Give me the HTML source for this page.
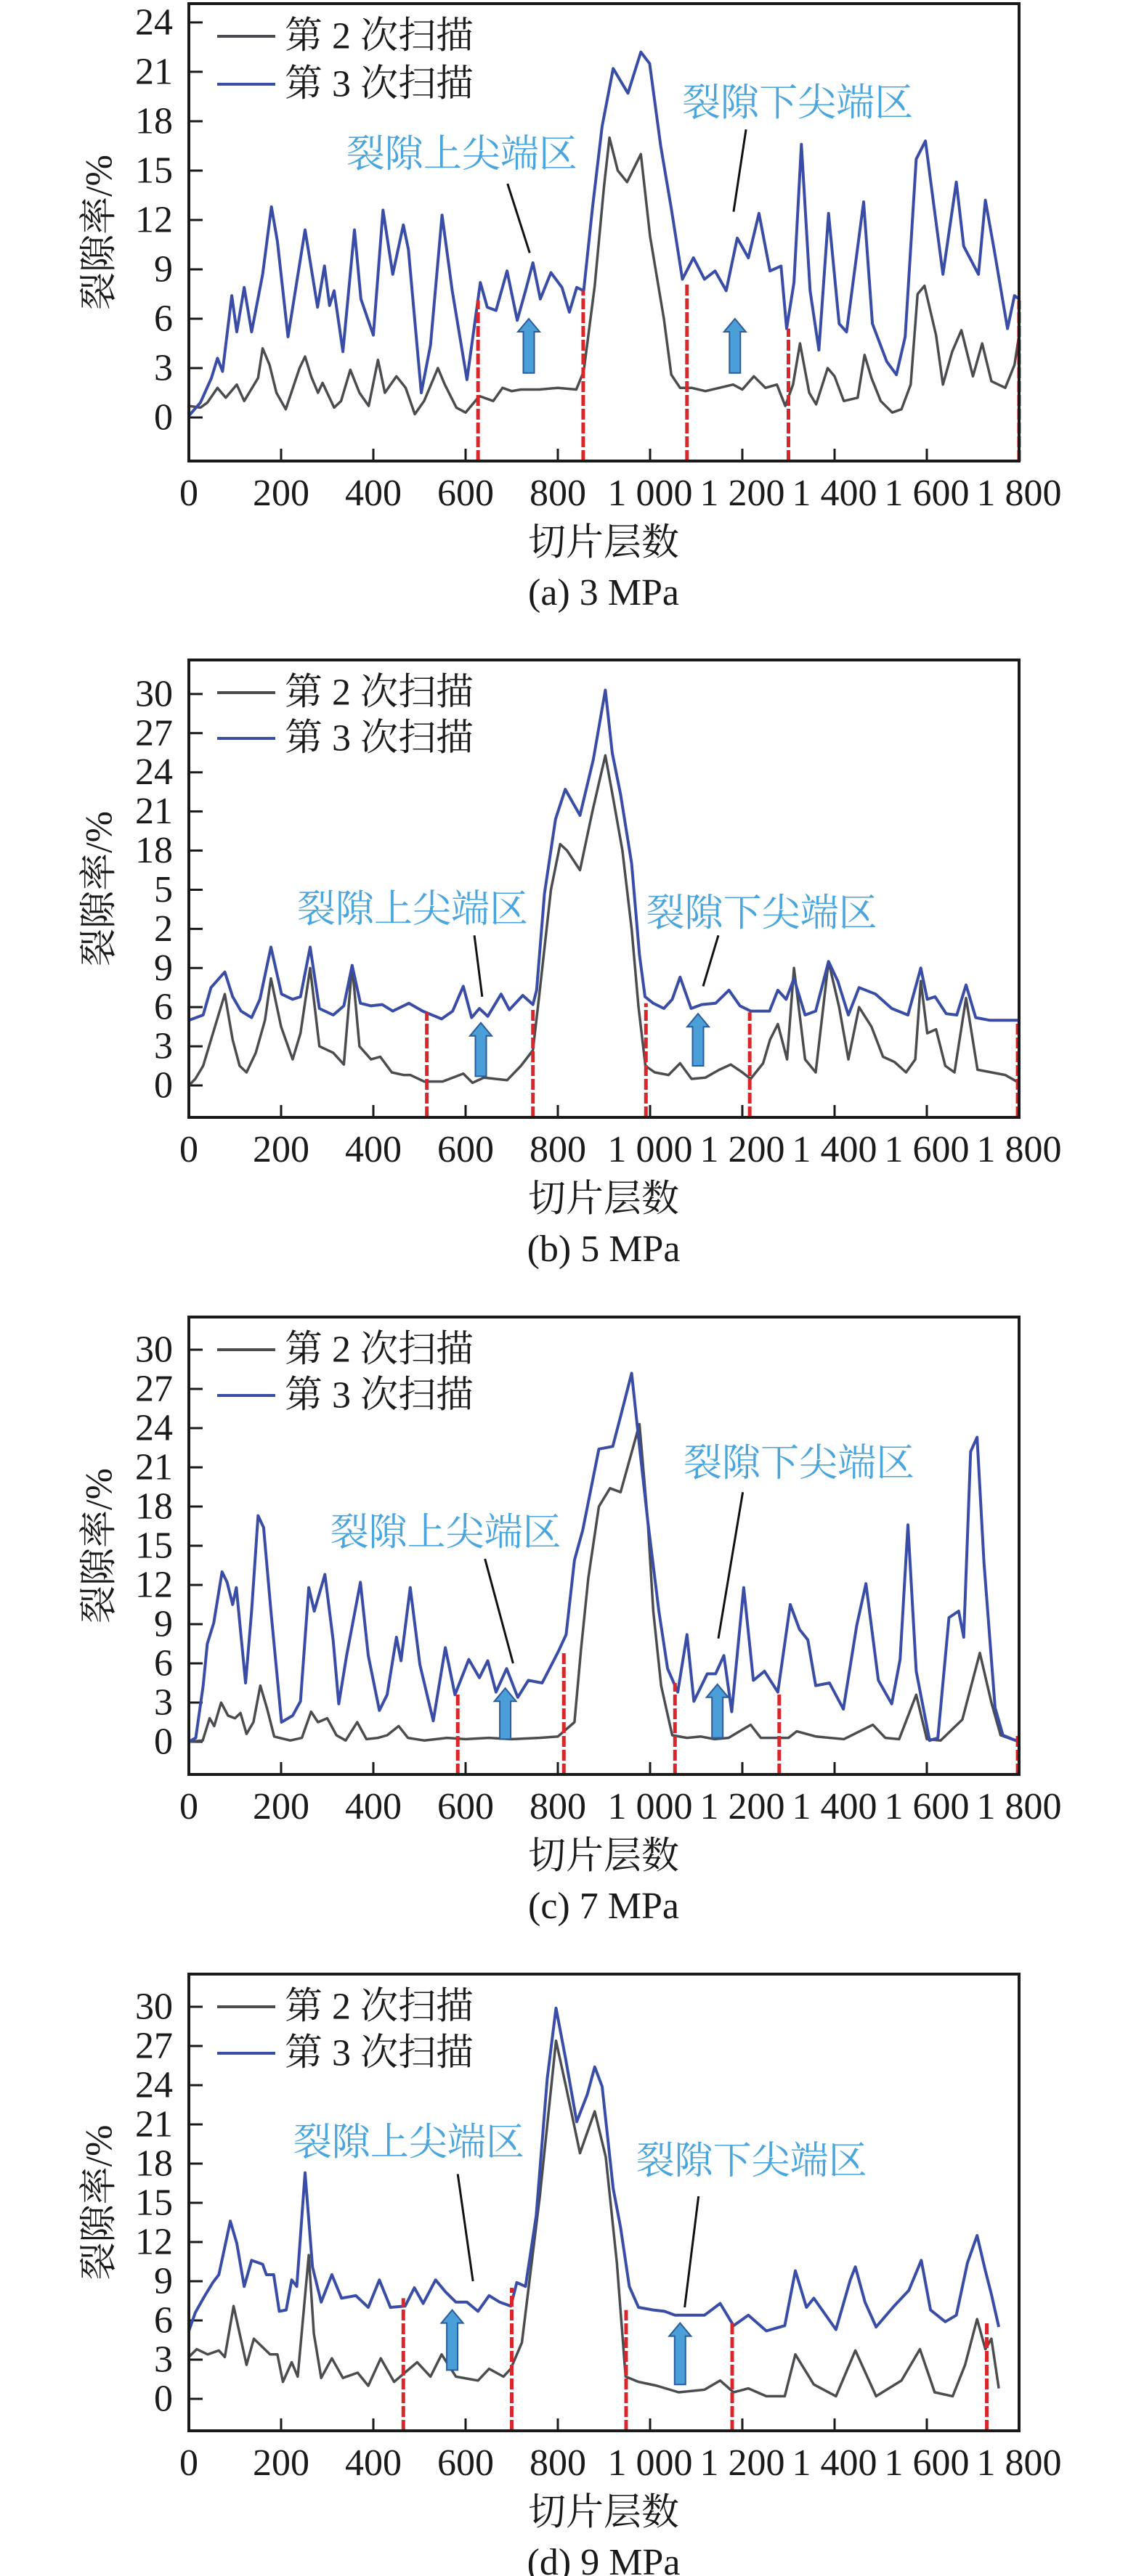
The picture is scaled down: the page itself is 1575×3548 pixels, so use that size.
<!DOCTYPE html>
<html lang="zh">
<head>
<meta charset="utf-8">
<title>裂隙率随切片层数变化</title>
<style>
  html,body{margin:0;padding:0;background:#fff;}
  svg{display:block;}
  .serif{font-family:"Liberation Serif","Noto Serif CJK SC",serif;}
</style>
</head>
<body>
<svg id="fig" xmlns="http://www.w3.org/2000/svg" width="1575" height="3548" viewBox="0 0 1575 3548"></svg>
<script>
// ---------- data (slice index / porosity %) ----------
const slicesA3 = [0,25,49,62,73,93,104,120,136,160,179,192,215,252,279,294,305,315,334,359,373,400,421,442,465,476,504,524,549,571,603,632,647,666,690,712,730,746,762,785,809,825,841,856,875,896,920,952,980,999,1023,1046,1070,1094,1118,1141,1165,1189,1213,1236,1260,1284,1296,1312,1328,1347,1366,1387,1410,1426,1463,1482,1513,1534,1553,1577,1597,1616,1635,1664,1680,1712,1727,1746,1775,1790,1800];
const valuesA3 = [0.1,0.9,2.4,3.6,2.8,7.4,5.2,7.9,5.2,8.7,12.8,10.7,4.9,11.4,6.7,9.2,6.8,7.7,4.0,11.4,7.2,5.0,12.6,8.7,11.7,10.2,1.5,4.4,12.3,7.7,2.3,8.2,6.7,6.5,8.9,5.9,7.7,9.4,7.2,8.8,7.9,6.4,7.9,7.7,12.7,17.7,21.2,19.7,22.2,21.5,16.5,12.7,8.4,9.7,8.4,8.9,7.7,10.9,9.7,12.4,8.9,9.2,5.4,8.2,16.6,7.7,4.1,12.4,5.7,5.2,13.1,5.7,3.4,2.6,4.9,15.7,16.8,12.7,8.7,14.3,10.4,8.7,13.2,10.2,5.4,7.4,7.2];
const slicesA2 = [0,25,40,62,80,104,120,150,160,175,190,210,240,252,265,280,290,315,330,350,370,390,410,425,450,470,490,510,540,555,580,600,630,660,680,700,720,760,800,840,856,880,900,912,930,950,980,1000,1030,1046,1065,1090,1120,1150,1180,1200,1225,1250,1275,1293,1310,1325,1345,1360,1385,1400,1420,1450,1465,1480,1500,1525,1545,1565,1580,1595,1620,1635,1655,1675,1700,1720,1740,1770,1790,1800];
const valuesA2 = [0.7,0.6,0.9,1.8,1.2,2.0,1.0,2.4,4.2,3.2,1.5,0.5,3.0,3.7,2.5,1.5,2.1,0.6,1.0,2.9,1.5,0.7,3.5,1.5,2.5,1.8,0.2,1.0,3.0,2.0,0.6,0.3,1.3,1.0,1.8,1.6,1.7,1.7,1.8,1.7,2.8,8,14,17,15,14.3,16,11,6,2.6,1.8,1.8,1.6,1.8,2.0,1.7,2.5,1.8,2.0,0.7,2.0,4.5,1.5,0.8,3.0,2.5,1.0,1.2,3.8,2.4,1.0,0.3,0.5,2.0,7.5,8.0,5.0,2.0,4.0,5.3,2.5,4.5,2.2,1.8,3.2,5.0];

const slicesB3 = [0,31,48,78,95,113,136,154,178,201,225,242,263,283,313,336,354,372,395,419,442,477,507,548,572,595,613,630,648,677,695,724,746,754,771,795,816,848,877,903,918,936,960,977,989,1007,1030,1048,1065,1089,1112,1142,1171,1195,1218,1259,1277,1295,1312,1336,1359,1387,1407,1430,1453,1489,1524,1559,1587,1601,1618,1642,1665,1685,1706,1736,1800];
const valuesB3 = [5.0,5.4,7.5,8.7,6.8,5.7,5.2,6.6,10.6,7.0,6.6,6.8,10.6,5.9,5.4,6.1,9.2,6.3,6.1,6.2,5.7,6.3,5.7,5.1,5.7,7.6,5.2,5.9,5.3,7.0,5.8,6.9,6.2,7.3,14.7,20.4,22.7,20.7,25.0,30.3,25.5,22.3,17.0,10.0,6.8,6.3,5.9,6.6,8.3,5.9,6.2,6.3,7.3,6.1,5.7,5.7,7.3,6.6,8.2,5.4,5.7,9.5,8.0,5.4,7.5,7.0,5.9,5.4,9.0,6.6,6.8,5.5,5.4,7.7,5.2,5.0,5.0];
const slicesB2 = [0,14,31,48,78,95,110,125,145,165,178,200,225,242,263,283,313,336,354,370,395,415,440,465,480,510,550,595,615,640,690,720,746,760,785,805,820,848,875,903,920,940,960,975,990,1010,1040,1065,1090,1120,1150,1175,1200,1218,1245,1260,1277,1297,1312,1336,1359,1387,1410,1430,1453,1480,1505,1530,1555,1575,1587,1601,1620,1640,1660,1685,1710,1740,1770,1800];
const valuesB2 = [0.0,0.5,1.5,3.5,7.0,3.5,1.5,1.0,2.5,5.0,8.2,4.5,2.0,4.0,9.0,3.0,2.5,1.6,9.2,3.0,2.0,2.2,1.0,0.8,0.8,0.3,0.3,0.9,0.2,0.6,0.4,1.5,2.7,7,15,18.5,18.0,16.5,21,25.3,22,18,12,6,1.5,1.0,0.8,1.7,0.5,0.6,1.2,1.6,1.0,0.5,1.7,3.5,4.7,2.0,9.0,2.0,1.0,9.5,6.0,2.0,6.0,4.5,2.2,1.8,1.0,2.0,8.0,4.0,4.3,1.5,1.0,6.7,1.2,1.0,0.8,0.2];

const slicesC3 = [0,15,31,40,54,72,83,95,103,123,136,150,162,178,201,225,242,260,272,295,313,325,342,372,389,413,430,450,460,480,501,530,556,577,607,630,648,666,689,713,736,766,801,818,836,854,889,919,936,960,977,995,1019,1038,1060,1080,1095,1124,1142,1160,1177,1203,1224,1248,1277,1304,1324,1342,1359,1389,1419,1448,1468,1495,1524,1542,1559,1577,1606,1624,1648,1669,1680,1695,1709,1724,1748,1765,1800];
const valuesC3 = [0,0.3,4.3,7.5,9.1,13.0,12.2,10.5,11.8,4.5,10.0,17.3,16.4,10.0,1.5,2.0,3.1,11.8,10.0,12.8,7.7,2.9,6.6,12.2,6.6,2.4,3.6,8.0,6.2,11.8,5.9,1.6,7.2,3.6,6.3,4.9,6.2,3.8,5.6,3.4,4.7,4.5,6.9,8.2,13.9,16.2,22.4,22.6,24.9,28.2,22.6,16.9,10.0,5.6,3.8,8.2,3.1,5.2,5.2,6.6,2.3,11.8,4.7,5.4,3.8,10.5,8.6,7.8,4.3,4.5,2.5,8.9,12.1,4.7,2.9,6.3,16.6,5.4,0.1,0.3,9.5,10.0,8.0,22.2,23.3,13.7,2.6,0.5,0];
const slicesC2 = [0,30,45,55,70,85,100,112,125,140,155,170,185,220,245,265,280,300,320,340,365,385,410,430,455,475,510,560,600,650,700,760,800,836,850,866,889,913,936,977,995,1007,1024,1048,1080,1110,1140,1170,1218,1240,1300,1318,1360,1420,1483,1510,1540,1577,1600,1630,1677,1715,1740,1760,1800];
const valuesC2 = [0,0.1,1.8,1.2,3.0,2.0,1.8,2.2,0.6,1.5,4.3,2.5,0.4,0.1,0.3,2.3,1.5,1.8,0.5,0.1,1.5,0.2,0.3,0.5,1.2,0.3,0.1,0.3,0.2,0.3,0.2,0.3,0.4,1.5,7,12.5,18.0,19.4,19.1,24.3,16.9,10,4.3,0.5,0.3,0.4,0.2,0.3,1.3,0.3,0.3,0.8,0.4,0.2,1.3,0.3,0.2,3.6,0.2,0.1,1.7,6.8,3,0.5,0];

const slicesD3 = [0,14,33,52,65,90,104,120,136,160,168,184,196,211,223,234,252,268,287,310,331,362,389,413,437,469,489,508,535,556,579,603,627,651,674,698,711,730,753,777,796,817,841,864,880,896,920,936,955,975,1007,1031,1054,1086,1118,1152,1181,1213,1252,1292,1315,1339,1355,1403,1434,1445,1466,1490,1529,1561,1588,1608,1640,1664,1688,1709,1727,1740,1756];
const valuesD3 = [5.2,6.6,7.8,8.9,9.5,13.6,11.9,8.6,10.6,10.3,9.5,9.5,6.7,6.8,9.1,8.6,17.3,10.1,7.4,9.5,7.7,7.9,7.0,9.1,7.0,7.1,8.5,7.3,9.1,8.2,7.4,7.4,6.7,7.9,7.4,7.1,8.9,8.6,14.0,24.5,29.9,26.0,21.2,23.3,25.4,23.9,16.1,13.1,8.6,7.0,6.8,6.7,6.4,6.4,6.4,7.3,5.6,6.4,5.2,5.6,9.8,7.0,7.7,5.3,9.1,10.1,7.4,5.5,7.1,8.3,10.6,6.8,5.9,6.4,10.4,12.5,9.8,8.0,5.5];
const slicesD2 = [0,17,41,65,78,97,112,125,141,176,192,204,223,236,260,271,287,310,334,366,389,416,445,495,524,548,579,627,651,682,698,722,761,796,817,848,880,904,928,947,975,1015,1062,1118,1152,1181,1213,1252,1292,1315,1355,1403,1445,1490,1545,1585,1617,1656,1683,1709,1727,1740,1756];
const valuesD2 = [3.2,3.8,3.4,3.7,3.2,7.1,4.7,2.6,4.6,3.4,3.4,1.3,2.8,1.7,11.0,5.0,1.6,3.1,1.6,2.0,1.0,3.1,1.3,2.8,1.7,3.4,1.7,1.4,2.3,1.7,2.3,4.3,15.5,27.4,24.0,18.8,22.0,18.5,10.4,1.7,1.3,1.0,0.5,0.7,1.4,0.5,0.8,0.2,0.2,3.4,1.1,0.2,3.7,0.2,1.4,3.8,0.5,0.2,2.6,6.1,3.8,4.6,0.8];

// tick labels
const xTickValues = [0,200,400,600,800,1000,1200,1400,1600,1800];
const xTickLabels = ["0","200","400","600","800","1 000","1 200","1 400","1 600","1 800"];
const yTickValuesA = [0,3,6,9,12,15,18,21,24];
const yTickLabelsA = ["0","3","6","9","12","15","18","21","24"];
const yTickValuesB = [0,3,6,9,12,15,18,21,24,27,30];
const yTickLabelsB = ["0","3","6","9","2","5","18","21","24","27","30"];
const yTickLabelsCD = ["0","3","6","9","12","15","18","21","24","27","30"];

// region boundary lines [slice, top value]
const boundsA = [[627,7.1],[855,7.7],[1080,8.2],[1300,5.4],[1800,7.1]];
const boundsB = [[516,5.6],[746,6.0],[991,6.3],[1216,5.6],[1797,5.0]];
const boundsC = [[583,3.7],[813,6.9],[1054,4.5],[1280,3.7],[1797,0.5]];
const boundsD = [[465,7.7],[700,8.5],[948,6.8],[1178,5.8],[1730,5.8]];

// ---------- layout ----------
const X0 = 260, X1 = 1403;
const panels = [
  {key:'a', top:5,    bottom:635,  zero:575,  unit:22.67, s3:slicesA3, v3:valuesA3, s2:slicesA2, v2:valuesA2, yv:yTickValuesA, yl:yTickLabelsA, bounds:boundsA, cap:"(a) 3 MPa",
   upT:[592,16.0], loT:[1320,19.1], upL:[691,14.2,739,10.0], loL:[1208,17.5,1181,12.5], arrows:[[737,2.7,6.0],[1184,2.7,6.0]], leg:[45,111]},
  {key:'b', top:909,  bottom:1539, zero:1495, unit:17.97, s3:slicesB3, v3:valuesB3, s2:slicesB2, v2:valuesB2, yv:yTickValuesB, yl:yTickLabelsB, bounds:boundsB, cap:"(b) 5 MPa",
   upT:[485,13.5], loT:[1242,13.2], upL:[619,11.5,636,6.8], loL:[1148,11.5,1115,7.6], arrows:[[633,0.7,4.8],[1104,1.5,5.5]], leg:[45,108]},
  {key:'c', top:1814, bottom:2444, zero:2399, unit:18.0, s3:slicesC3, v3:valuesC3, s2:slicesC2, v2:valuesC2, yv:yTickValuesB, yl:yTickLabelsCD, bounds:boundsC, cap:"(c) 7 MPa",
   upT:[557,16.0], loT:[1323,21.3], upL:[642,14.0,703,6.0], loL:[1201,19.1,1148,7.9], arrows:[[686,0.2,4.1],[1146,0.3,4.4]], leg:[45,108]},
  {key:'d', top:2719, bottom:3348, zero:3304, unit:18.0, s3:slicesD3, v3:valuesD3, s2:slicesD2, v2:valuesD2, yv:yTickValuesB, yl:yTickLabelsCD, bounds:boundsD, cap:"(d) 9 MPa",
   upT:[477,19.6], loT:[1220,18.2], upL:[583,17.2,616,9.0], loL:[1105,15.5,1075,7.0], arrows:[[571,2.2,6.8],[1065,1.1,5.8]], leg:[45,109]}
];

const NS = 'http://www.w3.org/2000/svg';
const svg = document.getElementById('fig');
function mk(tag, attrs, parent){
  const e = document.createElementNS(NS, tag);
  for (const k in attrs) e.setAttribute(k, attrs[k]);
  (parent||svg).appendChild(e);
  return e;
}
const SERIF = '"Liberation Serif","Noto Serif CJK SC",serif';
const BLUE = '#3a4da6', GRAY = '#4a4c50', RED = '#d8262a', ANNO = '#4aa5dc';

panels.forEach(p => {
  const xs = s => X0 + s * (X1 - X0) / 1800;
  const ys = v => p.zero - v * p.unit;
  const g = mk('g', {});
  
  

  // y ticks
  p.yv.forEach((v, i) => {
    const t = mk('line', {x1:X0, x2:X0+19, y1:ys(v), y2:ys(v), stroke:'#1a1a1a', 'stroke-width':3}, g);
    
    
    const l = mk('text', {x:238, y:ys(v), 'text-anchor':'end', 'dominant-baseline':'central', 'font-size':52, 'font-family':SERIF, fill:'#1a1a1a'}, g);
    l.textContent = p.yl[i];
    
    
  });
  // x ticks
  xTickValues.forEach((v, i) => {
    if (v > 0 && v < 1800) {
      const t = mk('line', {x1:xs(v), x2:xs(v), y1:p.bottom, y2:p.bottom-17, stroke:'#1a1a1a', 'stroke-width':3}, g);
      
      
    }
    const l = mk('text', {x:xs(v), y:p.bottom+61, 'text-anchor':'middle', 'font-size':52, 'font-family':SERIF, fill:'#1a1a1a'}, g);
    l.textContent = xTickLabels[i];
    
    
  });

  // series
  const path = (s, v) => s.map((x, i) => (i ? 'L' : 'M') + xs(x).toFixed(1) + ',' + ys(v[i]).toFixed(1)).join('');
  const g2 = mk('path', {d:path(p.s2, p.v2), fill:'none', stroke:GRAY, 'stroke-width':3.5, 'stroke-linejoin':'round'}, g);
  
  
  const g3 = mk('path', {d:path(p.s3, p.v3), fill:'none', stroke:BLUE, 'stroke-width':4, 'stroke-linejoin':'round'}, g);
  
  

  // boundary dashes
  p.bounds.forEach(b => {
    const d = mk('line', {x1:xs(b[0]), x2:xs(b[0]), y1:p.bottom, y2:ys(b[1]), stroke:RED, 'stroke-width':5, 'stroke-dasharray':'15 4'}, g);
    
    
  });

  // arrows
  p.arrows.forEach(a => {
    const x = xs(a[0]), yb = ys(a[1]), yt = ys(a[2]);
    const hl = 18, sw = 7.5, hw = 15;
    const pts = [[x-sw,yb],[x-sw,yt+hl],[x-hw,yt+hl],[x,yt],[x+hw,yt+hl],[x+sw,yt+hl],[x+sw,yb]].map(q => q[0].toFixed(1)+','+q[1].toFixed(1)).join(' ');
    const ar = mk('polygon', {points:pts, fill:'#4a9fd8', stroke:'#2d5b9a', 'stroke-width':2}, g);
    
    
  });

  // annotation leaders + text
  const l1 = mk('line', {x1:xs(p.upL[0]), y1:ys(p.upL[1]), x2:xs(p.upL[2]), y2:ys(p.upL[3]), stroke:'#111', 'stroke-width':3}, g);
  
  
  const l2 = mk('line', {x1:xs(p.loL[0]), y1:ys(p.loL[1]), x2:xs(p.loL[2]), y2:ys(p.loL[3]), stroke:'#111', 'stroke-width':3}, g);
  
  
  const t1 = mk('text', {x:xs(p.upT[0]), y:ys(p.upT[1]), 'text-anchor':'middle', 'dominant-baseline':'central', 'font-size':53, 'font-family':SERIF, fill:ANNO}, g);
  t1.textContent = '裂隙上尖端区';
  
  
  const t2 = mk('text', {x:xs(p.loT[0]), y:ys(p.loT[1]), 'text-anchor':'middle', 'dominant-baseline':'central', 'font-size':53, 'font-family':SERIF, fill:ANNO}, g);
  t2.textContent = '裂隙下尖端区';
  
  

  // legend
  const lg = mk('g', {}, g);
  
  
  [[GRAY,'第 2 次扫描',p.leg[0]],[BLUE,'第 3 次扫描',p.leg[1]]].forEach(e => {
    const ln = mk('line', {x1:299, x2:379, y1:p.top+e[2], y2:p.top+e[2], stroke:e[0], 'stroke-width':4}, lg);
    
    
    const tx = mk('text', {x:392, y:p.top+e[2], 'dominant-baseline':'central', 'font-size':52, 'font-family':SERIF, fill:'#1a1a1a'}, lg);
    tx.textContent = e[1];
    
    
  });

  // frame
  const fr = mk('rect', {x:X0, y:p.top, width:X1-X0, height:p.bottom-p.top, fill:'none', stroke:'#1a1a1a', 'stroke-width':4}, g);
  
  

  // axis titles & caption
  const cy = (p.top + p.bottom) / 2;
  const yt = mk('text', {x:0, y:0, transform:'translate(137,'+cy+') rotate(-90)', 'text-anchor':'middle', 'dominant-baseline':'central', 'font-size':52, 'font-family':SERIF, fill:'#1a1a1a'}, g);
  yt.textContent = '裂隙率/%';
  
  
  const xt = mk('text', {x:831, y:p.bottom+113, 'text-anchor':'middle', 'dominant-baseline':'central', 'font-size':52, 'font-family':SERIF, fill:'#1a1a1a'}, g);
  xt.textContent = '切片层数';
  
  
  const cp = mk('text', {x:831, y:p.bottom+198, 'text-anchor':'middle', 'font-size':52, 'font-family':SERIF, fill:'#1a1a1a'}, g);
  cp.textContent = p.cap;
  
  
});
</script>
</body>
</html>
